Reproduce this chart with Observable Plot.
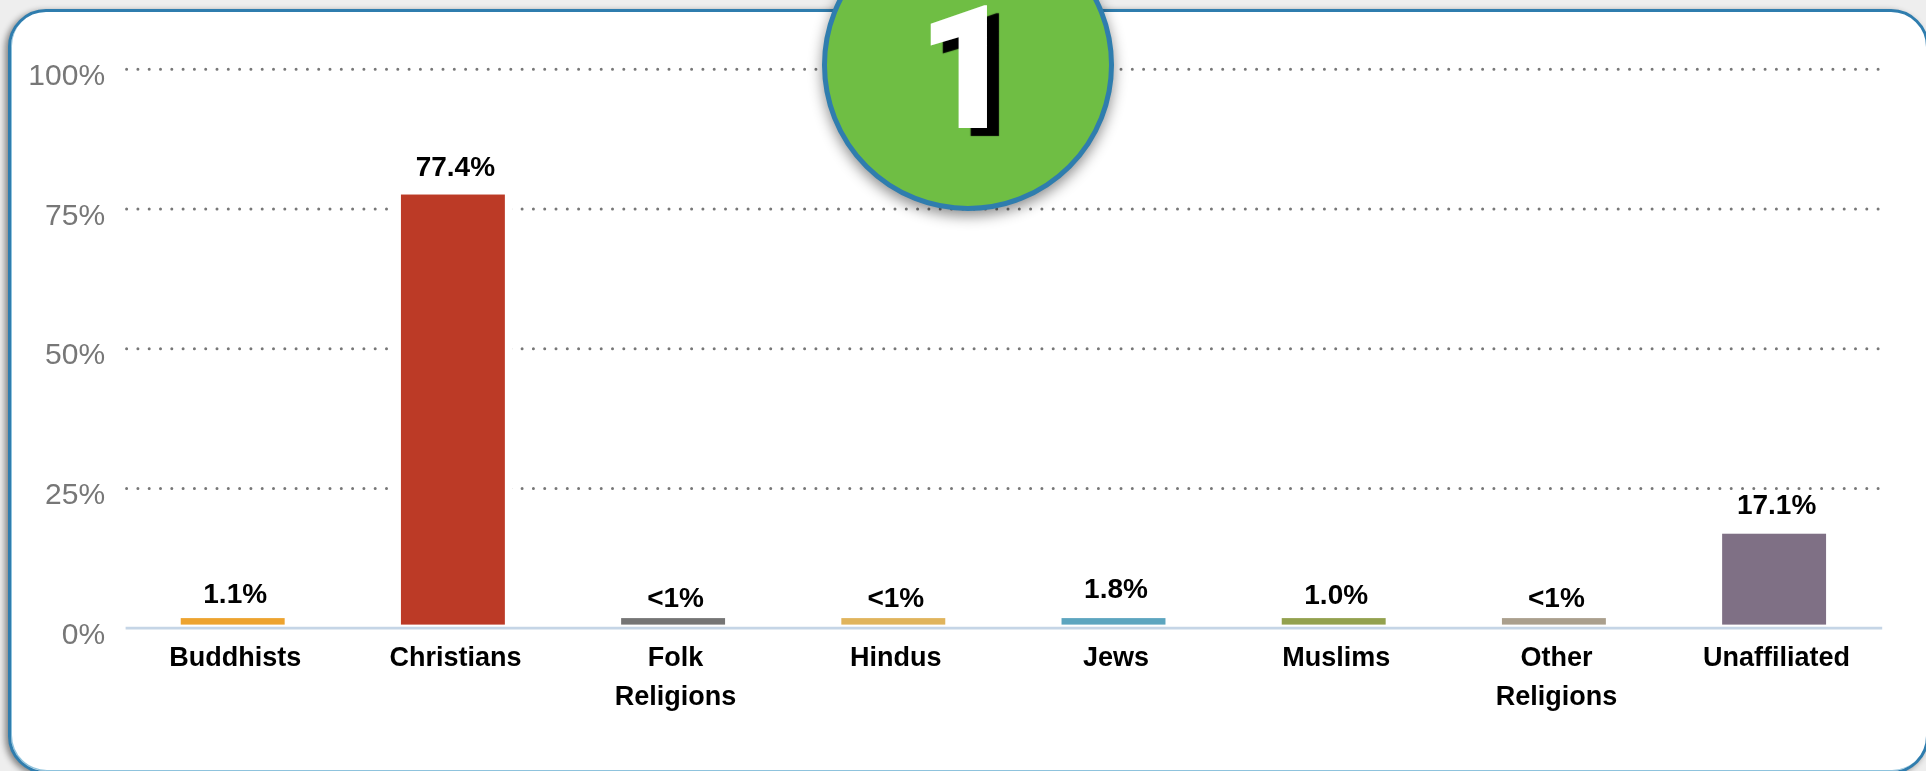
<!DOCTYPE html>
<html>
<head>
<meta charset="utf-8">
<script src="https://cdn.jsdelivr.net/npm/d3@7"></script>
<script src="https://cdn.jsdelivr.net/npm/@observablehq/plot@0.6"></script>
<style>
html,body{margin:0;padding:0;background:#eeeeee;overflow:hidden;width:1926px;height:771px;}
#stage{position:relative;width:1926px;height:771px;overflow:hidden;}
#panel{position:absolute;left:8px;top:9px;width:1921px;height:765px;box-sizing:border-box;background:#fff;border:3px solid #2f7dae;border-radius:38px;box-shadow:-3px 2px 6px rgba(0,0,0,.45),inset 1px -1px 0 #8fc3dd;}
#chart{position:absolute;left:0;top:0;filter:blur(.6px);}
#badge{position:absolute;left:822px;top:-81px;width:292px;height:292px;box-sizing:border-box;border-radius:50%;background:#6fbe44;border:5px solid #2f7dae;box-shadow:0 5px 14px rgba(0,0,0,.45);}
#digit{position:absolute;left:-3px;right:0;top:59px;text-align:center;color:#fff;font:900 172px/172px Roboto,"Liberation Sans",sans-serif;text-shadow:12px 8px 1px #000;}
</style>
</head>
<body>
<div id="stage">
  <div id="panel"></div>
  <div id="chart"></div>
  <div id="badge"><div id="digit">1</div></div>
</div>
<script>
const categories = ["Buddhists","Christians","Folk\nReligions","Hindus","Jews","Muslims","Other\nReligions","Unaffiliated"];
const barValues = [1.7,77.5,1.7,1.7,1.7,1.7,1.7,16.8];
const valueLabels = ["1.1%","77.4%","<1%","<1%","1.8%","1.0%","<1%","17.1%"];
const barColors = ["#eda32f","#bc3a26","#757575","#e0b45c","#5ca5bf","#93a14e","#aa9f8d","#7f7085"];
const yTicks = [0,25,50,75,100];

const rows = categories.map((c,i)=>({category:c,value:barValues[i],label:valueLabels[i],color:barColors[i]}));
const labelLift = {"Buddhists":-25,"Christians":-28,"Folk\nReligions":-21,"Hindus":-21,"Jews":-30,"Muslims":-24,"Other\nReligions":-21,"Unaffiliated":-29};
const sans = '"Liberation Sans",Arial,sans-serif';

const plot = Plot.plot({
  width:1926,height:771,
  marginTop:68.8,marginBottom:143.4,marginLeft:122.6,marginRight:41.8,
  style:{background:"transparent",overflow:"visible"},
  x:{domain:categories,paddingInner:0.528,paddingOuter:0.264,round:false,label:null},
  y:{domain:[0,100],label:null},
  marks:[
    Plot.ruleY(yTicks.filter(d=>d>0),{stroke:"#777",strokeWidth:3,strokeDasharray:"0 11.3",strokeLinecap:"round",insetLeft:4,insetRight:2}),
    Plot.barY(rows,{x:"category",y:"value",fill:d=>d.color,insetBottom:3,stroke:"#fff",strokeWidth:15,paintOrder:"stroke"}),
    Plot.ruleY([0],{stroke:"#c5d5e6",strokeWidth:2.6,insetLeft:3,insetRight:2}),
    Plot.axisY({ticks:yTicks,tickFormat:d=>d+"%",tickSize:0,tickPadding:0,dx:-18,dy:6,fontSize:30,fill:"#777",fontFamily:sans,label:null}),
    Plot.axisX({tickSize:0,tickPadding:0,dx:2,dy:10,fontSize:27,fontWeight:"bold",fill:"#000",fontFamily:sans,lineHeight:1.44,label:null}),
    ...rows.map(r=>Plot.text([r],{x:"category",y:"value",text:"label",dx:2,dy:labelLift[r.category],fontSize:28,fontWeight:"bold",fill:"#000",fontFamily:sans}))
  ]
});
document.getElementById("chart").appendChild(plot);
</script>
</body>
</html>
